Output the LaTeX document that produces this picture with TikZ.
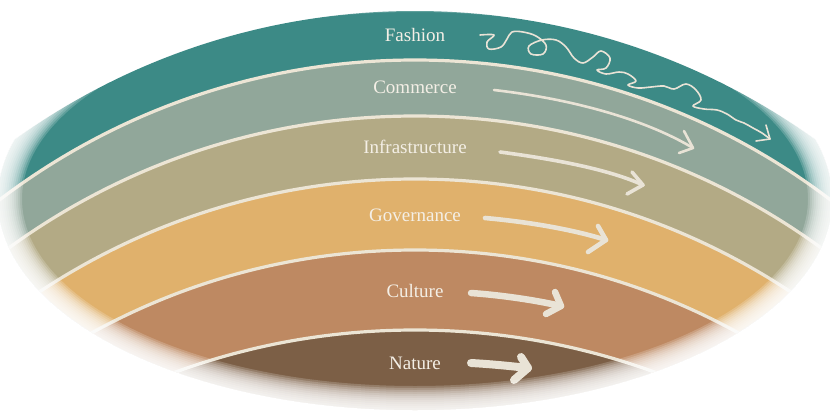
\documentclass[tikz,border=0pt]{standalone}
\usepackage{fontspec}
\setmainfont{Liberation Serif}
\definecolor{fashionc}{HTML}{3C8A86}
\definecolor{commercec}{HTML}{91A79A}
\definecolor{infrac}{HTML}{B3AA85}
\definecolor{govc}{HTML}{E0B16C}
\definecolor{culturec}{HTML}{BE8962}
\definecolor{naturec}{HTML}{7C5F46}
\definecolor{sepc}{HTML}{ECE5D5}
\definecolor{labelc}{HTML}{F4EFE6}
\definecolor{chalkc}{HTML}{E9E3D6}
\begin{document}
\begin{tikzpicture}[x=1pt,y=-1pt,
  lbl/.style={text=labelc, font=\fontsize{19}{21}\selectfont, inner sep=0pt},
  sepline/.style={draw=sepc, line width=3.2pt},
  chalk/.style={draw=chalkc, line cap=round, line join=round},
]
\useasboundingbox (0,0) rectangle (830,410);
\fill[white] (0,0) rectangle (830,410);
\begin{scope}
  \clip (415,199) ellipse [x radius=417pt, y radius=211pt];
  \clip (415,698) circle [radius=687pt];
  % bands
  \fill[fashionc] (0,0) rectangle (830,410);
  \fill[commercec] (415,747) circle [radius=687pt];
  \fill[infrac] (415,807) circle [radius=691pt];
  \fill[govc] (415,860) circle [radius=681pt];
  \fill[culturec] (415,921) circle [radius=671pt];
  \fill[naturec] (415,1030) circle [radius=700pt];
  % separators
  \draw[sepline] (415,747) circle [radius=687pt];
  \draw[sepline] (415,807) circle [radius=691pt];
  \draw[sepline] (415,860) circle [radius=681pt];
  \draw[sepline] (415,921) circle [radius=671pt];
  \draw[sepline] (415,1030) circle [radius=700pt];
\end{scope}

% labels
\node[lbl] (fashion) at (415,35) {Fashion};
\node[lbl] (commerce) at (415,87) {Commerce};
\node[lbl] (infra) at (415,147) {Infrastructure};
\node[lbl] (gov) at (415,215) {Governance};
\node[lbl] (culture) at (415,291) {Culture};
\node[lbl] (nature) at (415,363) {Nature};

% arrow coordinates
\coordinate (fs) at (480,35);
\coordinate (ft) at (770,139);
\coordinate (cs) at (494,90);
\coordinate (ct) at (693,148);
\coordinate (is) at (500,152);
\coordinate (it) at (643,185);
\coordinate (gs) at (485,218);
\coordinate (gt) at (606,240);
\coordinate (us) at (471,293);
\coordinate (ut) at (561,306);
\coordinate (ns) at (471,363);
\coordinate (nt) at (528,368);

% fashion squiggle
\draw[chalk, line width=1.6pt] plot[smooth, tension=0.6] coordinates {
 (fs) (494,35) (487,42) (489,49) (501,47) (507,39) (512,32) (523,32)
 (536,36) (546,45) (543,54) (531,54) (529,46) (542,40) (556,40)
 (566,47) (574,58) (583,63) (593,57) (601,51) (610,58) (606,68)
 (597,70) (606,74) (619,72) (628,74) (636,81) (628,85) (638,88)
 (651,87) (664,86) (674,89) (686,84) (696,90) (701,100) (693,106)
 (704,109) (717,110) (727,114) (736,120) (744,123) (753,128) (762,133) (ft)};
\draw[chalk, line width=1.6pt] (766,125) -- (ft) -- (756,141);

% commerce
\draw[chalk, line width=2.6pt] (cs) .. controls (580,100) and (650,122) .. (ct);
\draw[chalk, line width=2.6pt] (684,131) -- (ct) -- (679,153);
% infrastructure
\draw[chalk, line width=3.6pt] (is) .. controls (560,160) and (610,170) .. (it);
\draw[chalk, line width=3.6pt] (632,172) -- (it) -- (627,194);
% governance
\draw[chalk, line width=4.6pt] (gs) .. controls (530,222) and (575,230) .. (gt);
\draw[chalk, line width=4.6pt] (598,226) -- (gt) -- (588,252);
% culture
\draw[chalk, line width=6.5pt] (us) .. controls (500,295) and (535,300) .. (ut);
\draw[chalk, line width=6.5pt] (555,292) -- (ut) -- (546,314);
% nature
\draw[chalk, line width=8pt] (ns) .. controls (490,364) and (510,366) .. (nt);
\draw[chalk, line width=8pt] (521,357) -- (nt) -- (514,380);

% soft edge
\foreach \k in {0,...,13} {
  \fill[white, opacity=0.19, even odd rule] (-10,-10) rectangle (840,420)
    (415,199) ellipse [x radius={419pt-2pt*\k}, y radius={213pt-2pt*\k}];
}
\end{tikzpicture}
\end{document}
